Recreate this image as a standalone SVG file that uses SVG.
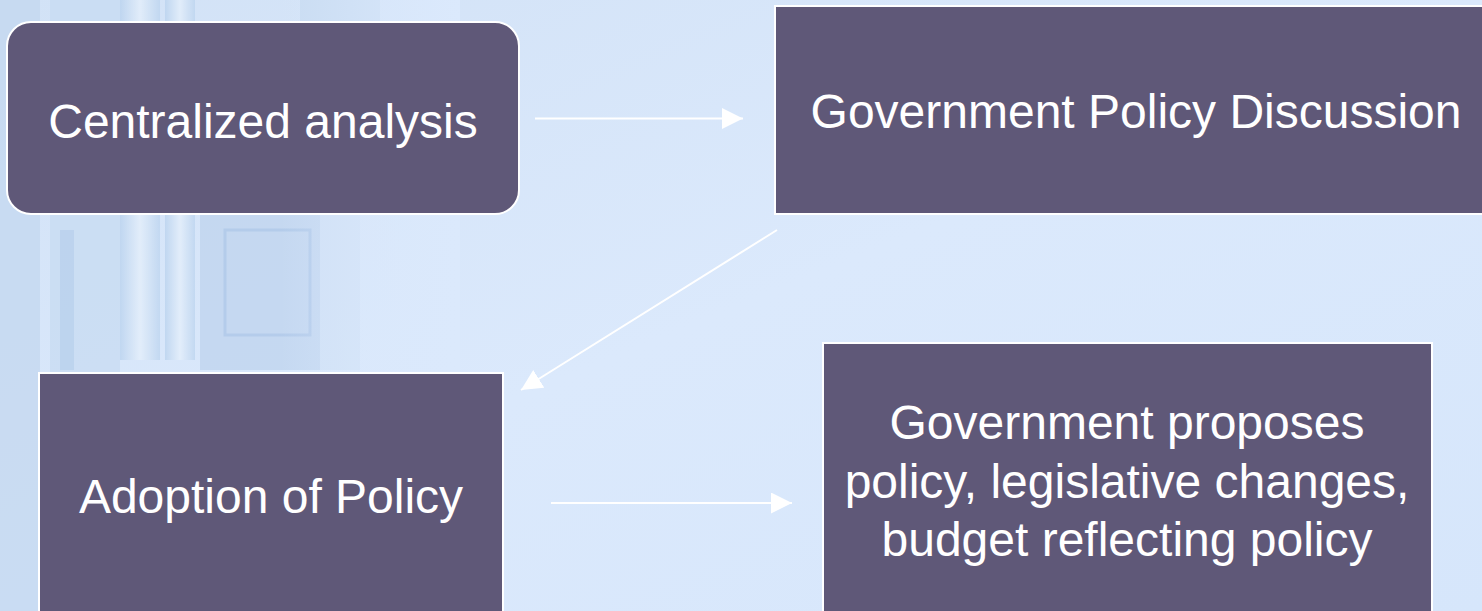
<svg xmlns="http://www.w3.org/2000/svg" width="1482" height="611" viewBox="0 0 1482 611">
  <defs>
    <linearGradient id="bg" x1="0" y1="0" x2="1" y2="1">
      <stop offset="0" stop-color="#d2e2f6"/>
      <stop offset="0.5" stop-color="#dbe9fc"/>
      <stop offset="1" stop-color="#d6e6fb"/>
    </linearGradient>
    <linearGradient id="col" x1="0" y1="0" x2="1" y2="0">
      <stop offset="0" stop-color="#b9d2ee"/>
      <stop offset="0.5" stop-color="#e6f0fb"/>
      <stop offset="1" stop-color="#bcd4ef"/>
    </linearGradient>
    <linearGradient id="fade" x1="0" y1="0" x2="1" y2="0">
      <stop offset="0" stop-color="#dbe9fc" stop-opacity="0"/>
      <stop offset="1" stop-color="#dbe9fc" stop-opacity="1"/>
    </linearGradient>
    <marker id="arrow" viewBox="0 0 20 20" refX="20" refY="10" markerWidth="21" markerHeight="21" markerUnits="userSpaceOnUse" orient="auto">
      <path d="M0,0 L20,10 L0,20 Z" fill="#ffffff"/>
    </marker>
    <style>
      .node { fill: #5f5878; stroke: #ffffff; stroke-width: 2; }
      .label { font-family: "Liberation Sans", Arial, sans-serif; font-size: 48px; fill: #ffffff; text-anchor: middle; }
      .conn { stroke: #ffffff; stroke-width: 2; fill: none; marker-end: url(#arrow); }
    </style>
  </defs>

  <!-- background -->
  <rect x="0" y="0" width="1482" height="611" fill="url(#bg)"/>
  <g id="building" opacity="0.75">
    <rect x="0" y="0" width="40" height="611" fill="#c4d8f0"/>
    <rect x="50" y="0" width="70" height="611" fill="#c8dcf2"/>
    <rect x="120" y="0" width="40" height="360" fill="url(#col)"/>
    <rect x="165" y="0" width="30" height="360" fill="url(#col)"/>
    <rect x="200" y="210" width="120" height="160" fill="#bfd4ee"/>
    <rect x="225" y="230" width="85" height="105" fill="none" stroke="#a9c4e6" stroke-width="3"/>
    <rect x="60" y="230" width="14" height="140" fill="#a9c4e6" opacity="0.6"/>
    <rect x="320" y="210" width="40" height="160" fill="#cfe0f5"/>
    <rect x="300" y="0" width="80" height="22" fill="#c6daf1"/>
  </g>
  <rect x="280" y="0" width="180" height="611" fill="url(#fade)"/>

  <!-- connectors -->
  <g id="connectors">
    <line class="conn" x1="535" y1="118.5" x2="743" y2="118.5"/>
    <line class="conn" x1="777" y1="230" x2="521" y2="390"/>
    <line class="conn" x1="551" y1="503" x2="792" y2="503"/>
  </g>

  <!-- nodes -->
  <g id="node-centralized">
    <rect class="node" x="7" y="22" width="512" height="192" rx="24" ry="24"/>
    <text class="label" x="263" y="138">Centralized analysis</text>
  </g>
  <g id="node-discussion">
    <rect class="node" x="775" y="6" width="722" height="208"/>
    <text class="label" x="1136" y="128">Government Policy Discussion</text>
  </g>
  <g id="node-adoption">
    <rect class="node" x="39" y="373" width="464" height="250"/>
    <text class="label" x="271" y="513">Adoption of Policy</text>
  </g>
  <g id="node-proposes">
    <rect class="node" x="823" y="343" width="609" height="280"/>
    <text class="label" x="1127" y="439">Government proposes</text>
    <text class="label" x="1127" y="498">policy, legislative changes,</text>
    <text class="label" x="1127" y="556">budget reflecting policy</text>
  </g>
</svg>
